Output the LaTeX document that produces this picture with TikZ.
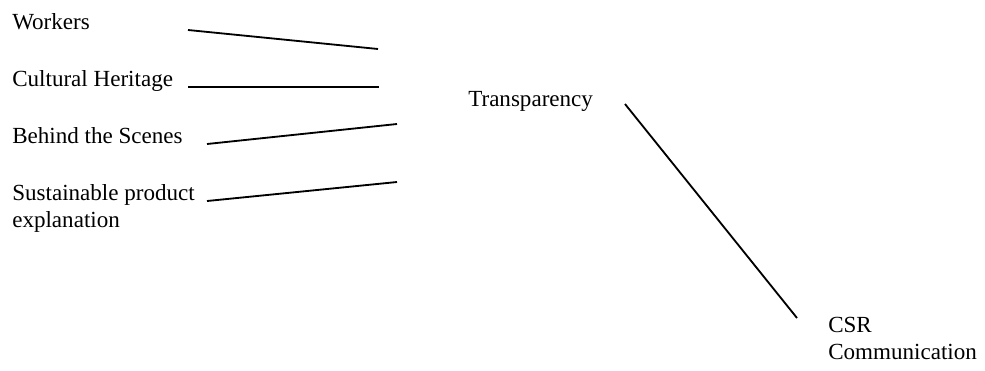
\documentclass[tikz,border=0pt]{standalone}
\usepackage{fontspec}
\setmainfont{Liberation Serif}
\usetikzlibrary{positioning}

\begin{document}
\begin{tikzpicture}[x=0.025cm,y=-0.025cm,
  word/.style={anchor=base west,inner sep=0pt,align=left,font=\fontsize{16.4}{19}\selectfont},
  link/.style={line width=1.3pt}]
\useasboundingbox (0,0) rectangle (985,370);

\node[word] (workers) at (12,29) {Workers};
\node[word] (heritage) at (12,86) {Cultural Heritage};
\node[word] (scenes) at (12,143) {Behind the Scenes};
\node[word] (product) at (12,227) {Sustainable product\\explanation};

\node[word] (transp) at (468,106) {Transparency};
\node[word] (csr) at (828,359) {CSR\\Communication};

\coordinate (w1) at (188,30);
\coordinate (w2) at (378,49);
\coordinate (h1) at (188,87);
\coordinate (h2) at (379,87);
\coordinate (s1) at (207,144);
\coordinate (s2) at (397,124);
\coordinate (p1) at (207,201);
\coordinate (p2) at (397,182);
\coordinate (t1) at (625,104);
\coordinate (t2) at (797,318);

\draw[link] (w1) -- (w2);
\draw[link] (h1) -- (h2);
\draw[link] (s1) -- (s2);
\draw[link] (p1) -- (p2);
\draw[link] (t1) -- (t2);

\end{tikzpicture}
\end{document}
